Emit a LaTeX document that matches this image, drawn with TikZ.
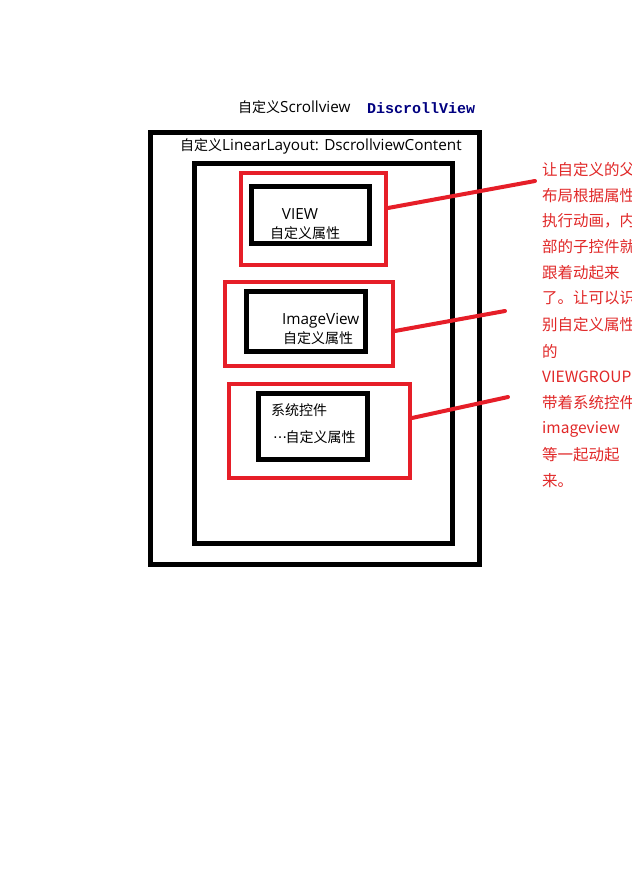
\documentclass[tikz,border=0pt]{standalone}
\usepackage{fontspec}
\setmainfont{Noto Sans CJK SC}
\newfontfamily\codefont{Liberation Mono}
\newfontfamily\dotsfont{DejaVu Sans}
\newfontfamily\latinfont{Open Sans}
\newcommand{\La}[1]{{\latinfont\fontsize{15.3}{16}\selectfont #1}}
\definecolor{redline}{RGB}{230,30,40}
\definecolor{redtext}{RGB}{225,40,40}
\definecolor{navy}{RGB}{0,0,128}
\begin{document}
\begin{tikzpicture}[x=1pt,y=-1pt,
  blackbox/.style={draw=black,line width=5pt},
  redbox/.style={draw=redline,line width=4pt},
  redconn/.style={draw=redline,line width=4pt,line cap=round},
  lbl/.style={inner sep=0pt,font=\fontsize{14}{16}\selectfont},
  redlbl/.style={inner sep=0pt,anchor=west,text=redtext,font=\fontsize{15.5}{17}\selectfont}]
\useasboundingbox[fill=white] (0,0) rectangle (632,876);
% outer boxes
\node[blackbox,inner sep=0pt,minimum width=329pt,minimum height=432pt] (outer) at (314.5,348) {};
\node[blackbox,inner sep=0pt,minimum width=258pt,minimum height=380pt] (inner) at (323,353) {};
% titles
\node[lbl,anchor=west] (t1) at (238,107) {自定义\La{Scrollview}};
\node[inner sep=0pt,anchor=west,text=navy,font=\codefont\bfseries\fontsize{15}{17}\selectfont] (t2) at (367,108) {DiscrollView};
\node[lbl,anchor=west] (t3) at (180,146) {自定义\La{LinearLayout: DscrollviewContent}};
% box 1
\node[redbox,inner sep=0pt,minimum width=145pt,minimum height=92pt] (r1) at (313.5,219) {};
\node[blackbox,inner sep=0pt,minimum width=118pt,minimum height=57pt] (b1) at (310,214.5) {};
\node[lbl] (v1) at (300,214) {\La{VIEW}};
\node[lbl] (v1a) at (305,233) {自定义属性};
% box 2
\node[redbox,inner sep=0pt,minimum width=168pt,minimum height=84pt] (r2) at (309,324) {};
\node[blackbox,inner sep=0pt,minimum width=119pt,minimum height=60pt] (b2) at (305.5,321) {};
\node[lbl,anchor=west] (v2) at (282,321) {\La{ImageView}};
\node[lbl] (v2a) at (318,338) {自定义属性};
% box 3
\node[redbox,inner sep=0pt,minimum width=181pt,minimum height=94pt] (r3) at (319.5,431) {};
\node[blackbox,inner sep=0pt,minimum width=109pt,minimum height=66pt] (b3) at (312.5,426) {};
\node[lbl,anchor=west] (v3) at (271,410) {系统控件};
\node[lbl,anchor=west] (v3a) at (273,437) {\raisebox{4pt}{\dotsfont\fontsize{14}{14}\selectfont …}\kern-1.5pt 自定义属性};
% connectors
\coordinate (e1) at (535,181);
\coordinate (e2) at (505,311);
\coordinate (e3) at (508,397);
\draw[redconn] (r1.east |- 0,208) -- (e1);
\draw[redconn] (r2.east |- 0,331) -- (e2);
\draw[redconn] (r3.east |- 0,418) -- (e3);
% red text (cut off at the right edge, as in the reference)
\begin{scope}
\clip (0,0) rectangle (632,876);
\node[redlbl] (n1) at (542,170) {让自定义的父};
\node[redlbl] (n2) at (542,196) {布局根据属性};
\node[redlbl] (n3) at (542,221) {执行动画，内};
\node[redlbl] (n4) at (542,247) {部的子控件就};
\node[redlbl] (n5) at (542,273) {跟着动起来};
\node[redlbl] (n6) at (542,298) {了。让可以识};
\node[redlbl] (n7) at (542,325) {别自定义属性};
\node[redlbl] (n8) at (542,351) {的};
\node[redlbl] (n9) at (542,377) {VIEWGROUP};
\node[redlbl] (n10) at (542,403) {带着系统控件};
\node[redlbl] (n11) at (542,429) {imageview};
\node[redlbl] (n12) at (542,455) {等一起动起};
\node[redlbl] (n13) at (542,481) {来。};
\end{scope}
\end{tikzpicture}
\end{document}
